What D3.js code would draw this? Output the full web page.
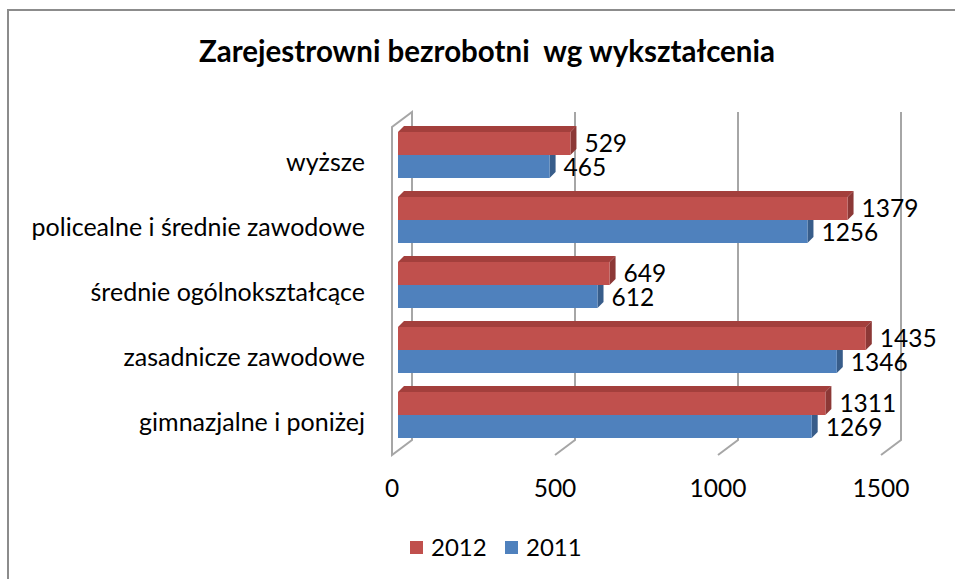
<!DOCTYPE html>
<html>
<head>
<meta charset="utf-8">
<script src="https://cdnjs.cloudflare.com/ajax/libs/d3/7.8.5/d3.min.js"></script>
<style>
  body { margin:0; background:#fff; }
  text { font-family: Lato, "Noto Sans", sans-serif; fill:#000; }
</style>
</head>
<body>
<div class="canvas"></div>
<script>
// dane (od góry do dołu)
var categories = ["wyższe", "policealne i średnie zawodowe", "średnie ogólnokształcące", "zasadnicze zawodowe", "gimnazjalne i poniżej"];
var values2012 = [529, 1379, 649, 1435, 1311];
var values2011 = [465, 1256, 612, 1346, 1269];
var ticks = [0, 500, 1000, 1500];
var seriesNames = ["2012", "2011"];

var width = 955, height = 579;
var svg = d3.select(".canvas").append("svg")
  .attr("width", width)
  .attr("height", height);

// ramka wykresu
svg.append("path")
  .attr("d", "M8,579 L8,10 L955,10")
  .attr("fill", "none")
  .attr("stroke", "#8c8c8c")
  .attr("stroke-width", 2);

// tytuł
svg.append("text")
  .text("Zarejestrowni bezrobotni  wg wykształcenia")
  .attr("x", 487)
  .attr("y", 62)
  .attr("text-anchor", "middle")
  .attr("xml:space", "preserve")
  .attr("style", "font-size:29.5px;font-weight:bold");

// skale: x = przednia ściana słupka
var x = d3.scaleLinear().domain([0, 1500]).range([398, 887]);
var y = d3.scaleBand().domain(categories).range([122.5, 447.5])
  .paddingInner(19 / 65).paddingOuter(19 / 130);
var bw = y.bandwidth() / 2;

var backDx = 14, floorDx = -6;
var backTop = 112, backBottom = 440, floorFront = 455;
var barDx = 6, barDy = 6;

var grid = svg.append("g").attr("fill", "none").attr("stroke", "#a6a6a6").attr("stroke-width", 2);

// ściana boczna (0)
grid.append("path")
  .attr("d", "M" + (x(0) + floorDx) + "," + floorFront +
    " L" + (x(0) + floorDx) + "," + (backTop + 15) +
    " L" + (x(0) + backDx) + "," + backTop +
    " L" + (x(0) + backDx) + "," + backBottom + " Z");

// linie siatki
grid.selectAll(".gl")
  .data(ticks.slice(1))
  .enter()
  .append("path")
  .attr("d", function(d) {
    return "M" + (x(d) + backDx) + "," + backTop +
      " L" + (x(d) + backDx) + "," + backBottom +
      " L" + (x(d) + floorDx) + "," + floorFront;
  });

// etykiety osi X
svg.selectAll(".tick")
  .data(ticks)
  .enter()
  .append("text")
  .text(function(d) { return d; })
  .attr("x", function(d) { return x(d) + floorDx; })
  .attr("y", 497)
  .attr("text-anchor", "middle")
  .attr("style", "font-size:24.5px");

// etykiety kategorii
svg.selectAll(".cat")
  .data(categories)
  .enter()
  .append("text")
  .text(function(d) { return d; })
  .attr("x", 365)
  .attr("y", function(d) { return y(d) + bw + 16; })
  .attr("text-anchor", "end")
  .attr("style", "font-size:25px");

// słupki 3D
function bar3d(g, y0, v, front, side, top) {
  var x0 = x(0), x1 = x(v), h = bw;
  g.append("path").attr("fill", top)
    .attr("d", "M" + x0 + "," + y0 + " L" + (x0 + barDx) + "," + (y0 - barDy) +
      " L" + (x1 + barDx) + "," + (y0 - barDy) + " L" + x1 + "," + y0 + " Z");
  g.append("path").attr("fill", side)
    .attr("d", "M" + x1 + "," + y0 + " L" + (x1 + barDx) + "," + (y0 - barDy) +
      " L" + (x1 + barDx) + "," + (y0 + h - barDy) + " L" + x1 + "," + (y0 + h) + " Z");
  g.append("rect").attr("fill", front)
    .attr("x", x0).attr("y", y0).attr("width", x1 - x0).attr("height", h);
}

var data = categories.map(function(c, i) {
  return { cat: c, v12: values2012[i], v11: values2011[i] };
});

// od dołu do góry, żeby górne słupki przykrywały
data.slice().reverse().forEach(function(d) {
  var g = svg.append("g");
  bar3d(g, y(d.cat) + bw, d.v11, "#4f81bd", "#385d8a", "#3f6aa0");
  bar3d(g, y(d.cat), d.v12, "#c0504d", "#8c3836", "#a33f3c");
});

// etykiety wartości
data.forEach(function(d) {
  svg.append("text")
    .text(d.v12)
    .attr("x", x(d.v12) + 14)
    .attr("y", y(d.cat) + bw / 2 + 8)
    .attr("style", "font-size:24.5px");
  svg.append("text")
    .text(d.v11)
    .attr("x", x(d.v11) + 14)
    .attr("y", y(d.cat) + bw * 1.5 + 9)
    .attr("style", "font-size:24.5px");
});

// legenda
var legColors = ["#c0504d", "#4f81bd"];
var legX = [410, 505];
seriesNames.forEach(function(s, i) {
  svg.append("rect")
    .attr("x", legX[i]).attr("y", 541)
    .attr("width", 13).attr("height", 13)
    .attr("fill", legColors[i]);
  svg.append("text")
    .text(s)
    .attr("x", legX[i] + 21)
    .attr("y", 556)
    .attr("style", "font-size:24px");
});
</script>
</body>
</html>
